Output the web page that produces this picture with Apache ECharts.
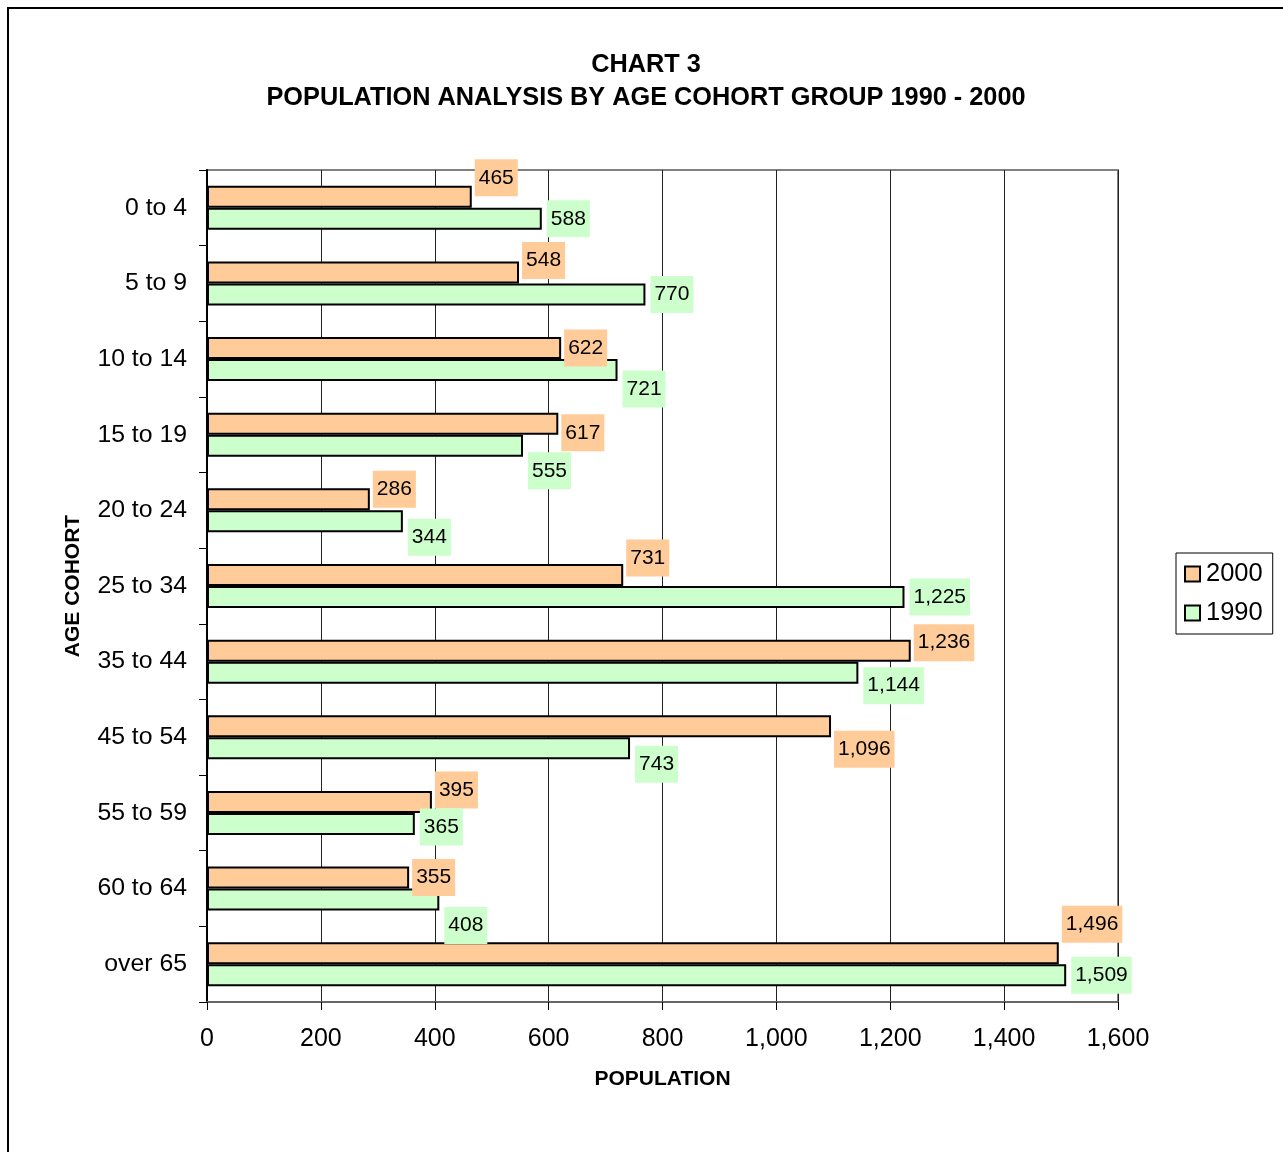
<!DOCTYPE html>
<html>
<head>
<meta charset="utf-8">
<script src="https://cdn.jsdelivr.net/npm/echarts@6/dist/echarts.min.js"></script>
<style>
html,body{margin:0;padding:0;background:#fff;}
#chart{width:1283px;height:1152px;}
</style>
</head>
<body>
<div id="chart"></div>
<script>
// ---- data ----
const categories = ['0 to 4','5 to 9','10 to 14','15 to 19','20 to 24','25 to 34','35 to 44','45 to 54','55 to 59','60 to 64','over 65'];
const values2000 = [465, 548, 622, 617, 286, 731, 1236, 1096, 395, 355, 1496];
const values1990 = [588, 770, 721, 555, 344, 1225, 1144, 743, 365, 408, 1509];
const xTicks = [0, 200, 400, 600, 800, 1000, 1200, 1400, 1600];

// ---- label nudges (layout only) ----
const labelNudge2000 = [-19, -12, 0, 9, -10, -17, -8, 23, -12, 0, -29];
const labelNudge1990 = [0, 0, 19, 25, 16, 0, 13, 16, 3, 26, 0];

const FONT = '"Liberation Sans", Arial, sans-serif';
const fmt = v => Number(v).toLocaleString('en-US');

function makeData(vals, nudges) {
  return vals.map((v, i) => ({ value: v, label: { offset: [0, nudges[i]] } }));
}

const chart = echarts.init(document.getElementById('chart'), null, { renderer: 'canvas' });
chart.setOption({
  animation: false,
  backgroundColor: '#fff',
  graphic: [{
    type: 'rect', z: -10,
    shape: { x: 8, y: 8, width: 1300, height: 1200 },
    style: { fill: 'none', stroke: '#000', lineWidth: 2 }
  }],
  title: {
    text: 'CHART 3\nPOPULATION ANALYSIS BY AGE COHORT GROUP 1990 - 2000',
    left: 646, top: 49, padding: 0, textAlign: 'center',
    textStyle: { fontFamily: FONT, fontSize: 25.3, fontWeight: 'bold', color: '#000', lineHeight: 33 }
  },
  legend: {
    orient: 'vertical', left: 1176, top: 553,
    data: ['2000', '1990'],
    backgroundColor: '#fff', borderColor: '#000', borderWidth: 1,
    padding: [8, 10, 8, 8], itemGap: 13, itemWidth: 15, itemHeight: 15,
    icon: 'rect',
    textStyle: { fontFamily: FONT, fontSize: 25.5, color: '#000', lineHeight: 25, padding: [0, 0, 0, 1] }
  },
  grid: {
    left: 207, right: 165, top: 170, bottom: 150,
    show: true, borderColor: '#808080', borderWidth: 2, backgroundColor: 'transparent'
  },
  xAxis: {
    type: 'value', min: 0, max: 1600, interval: 200,
    name: 'POPULATION', nameLocation: 'middle', nameGap: 67,
    nameTextStyle: { fontFamily: FONT, fontSize: 21, fontWeight: 'bold', color: '#000' },
    axisLine: { show: true, lineStyle: { color: '#666', width: 2 } },
    axisTick: { show: true, length: 8, lineStyle: { color: '#000', width: 1 } },
    axisLabel: { fontFamily: FONT, fontSize: 25, color: '#000', margin: 25,
      formatter: v => xTicks.includes(v) ? fmt(v) : '' },
    splitLine: { show: true, lineStyle: { color: '#222', width: 1 } }
  },
  yAxis: {
    type: 'category', data: categories, inverse: true,
    name: 'AGE COHORT', nameLocation: 'middle', nameGap: 123,
    nameTextStyle: { fontFamily: FONT, fontSize: 21, fontWeight: 'bold', color: '#000' },
    axisLine: { show: true, lineStyle: { color: '#000', width: 2 } },
    axisTick: { show: true, length: 8, lineStyle: { color: '#000', width: 1 } },
    axisLabel: { fontFamily: FONT, fontSize: 24.8, color: '#000', margin: 20, padding: [4, 0, 0, 0] },
    splitLine: { show: false }
  },
  series: [
    {
      name: '2000', type: 'bar', barWidth: 22, barGap: '0%',
      data: makeData(values2000, labelNudge2000),
      itemStyle: { color: '#FFCC99', borderColor: '#000', borderWidth: 2 },
      label: { show: true, position: 'right', distance: 3, formatter: p => fmt(p.value),
        fontFamily: FONT, fontSize: 21, color: '#000', backgroundColor: '#FFCC99', padding: [8, 4, 8, 4] }
    },
    {
      name: '1990', type: 'bar', barWidth: 22, barGap: '0%',
      data: makeData(values1990, labelNudge1990),
      itemStyle: { color: '#CCFFCC', borderColor: '#000', borderWidth: 2 },
      label: { show: true, position: 'right', distance: 5, formatter: p => fmt(p.value),
        fontFamily: FONT, fontSize: 21, color: '#000', backgroundColor: '#CCFFCC', padding: [8, 4, 8, 4] }
    }
  ]
});
</script>
</body>
</html>
